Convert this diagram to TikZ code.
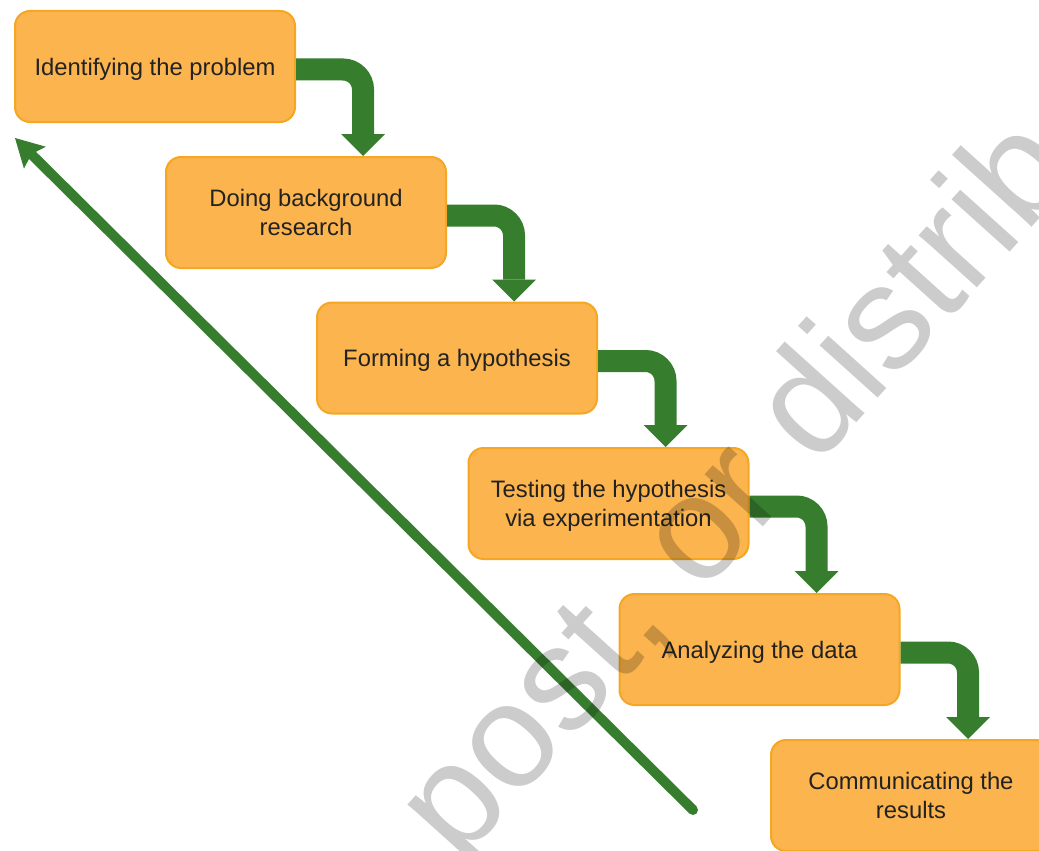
\documentclass[tikz,border=0pt]{standalone}
\usepackage{fontspec}
\setmainfont{Liberation Sans}
\usetikzlibrary{arrows.meta,calc}
\definecolor{boxfill}{HTML}{FBB44E}
\definecolor{boxline}{HTML}{F5A623}
\definecolor{flowgreen}{HTML}{367D2E}
\definecolor{txt}{HTML}{222222}
\begin{document}
\begin{tikzpicture}[x=1pt,y=-1pt,
  stage/.style={draw=boxline, line width=2pt, fill=boxfill, rounded corners=15pt,
    minimum width=280pt, minimum height=111pt, inner sep=0pt, align=center,
    text=txt, text depth=0pt, font=\fontsize{23.8}{29}\selectfont},
  flow/.style={draw=flowgreen, line width=22pt, rounded corners=20pt,
    -{Triangle[length=22pt,width=44pt,line width=0pt]}},
  loopback/.style={draw=flowgreen, line width=10pt, line cap=round,
    -{Stealth[length=28pt,width=31pt,inset=5pt,line width=0pt]}},
  watermark/.style={text=black, text opacity=0.2, inner sep=0pt,
    font=\fontsize{148}{150}\selectfont}
]
\useasboundingbox (0,0) rectangle (1039,851);
\clip (0,0) rectangle (1039,851);

% process stages
\node[stage] (s1) at (155,66.5)   {Identifying the problem};
\node[stage] (s2) at (306,212.5)  {Doing background\\research};
\node[stage] (s3) at (457,358)    {Forming a hypothesis};
\node[stage] (s4) at (608.5,503.5){Testing the hypothesis\\via experimentation};
\node[stage] (s5) at (759.5,649.5){Analyzing the data};
\node[stage] (s6) at (911,795.5)  {Communicating the\\results};

% bent arrows between consecutive stages
\draw[flow] ($(s1.east)+(0,3)$) -| ($(s2.north)+(57,0)$);
\draw[flow] ($(s2.east)+(0,3)$) -| ($(s3.north)+(57,0)$);
\draw[flow] ($(s3.east)+(0,3)$) -| ($(s4.north)+(57,0)$);
\draw[flow] ($(s4.east)+(0,3)$) -| ($(s5.north)+(57,0)$);
\draw[flow] ($(s5.east)+(0,3)$) -| ($(s6.north)+(57,0)$);

% long return arrow back to the start
\coordinate (backTail) at (693,810);
\coordinate (backHead) at (15,138);
\draw[loopback] (backTail) -- (backHead);

% overlaid stamp text
\node[watermark, rotate=48, anchor=base west] (stamp) at (459,864.5) {post, or distrib};
\end{tikzpicture}
\end{document}
